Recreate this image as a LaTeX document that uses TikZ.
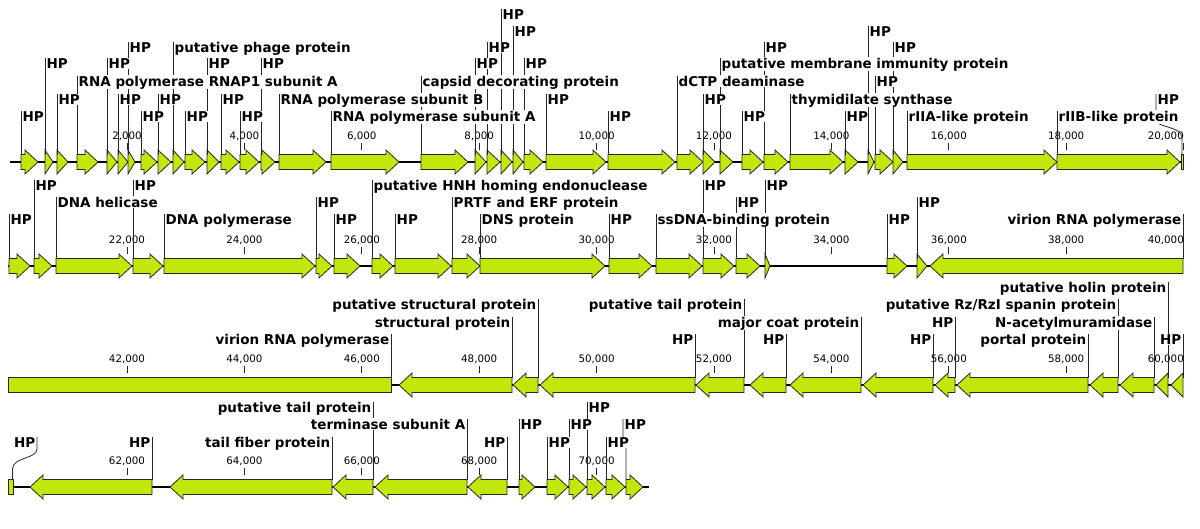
\documentclass[tikz,border=0pt]{standalone}
\usepackage{fontspec}
\setmainfont{DejaVu Sans}
\usepackage{tikz}
\usetikzlibrary{calc}
\definecolor{geneLime}{HTML}{C0E80A}
\pgfdeclarelayer{labels}
\pgfsetlayers{main,labels}

% forward gene: name, start, end, row centre, label level, label
\newcommand{\fgene}[6]{%
  \pgfmathsetmacro{\hl}{min(13,#3-#2)}%
  \draw[gene] (#2,#4-7.5) -- (#3-\hl,#4-7.5) -- (#3-\hl,#4-12) -- (#3,#4) -- (#3-\hl,#4+12) -- (#3-\hl,#4+7.5) -- (#2,#4+7.5) -- cycle;
  \coordinate (#1) at (#2,#4-7.5);
  \begin{pgfonlayer}{labels}
    \node[lab, anchor=base west] (#1l) at (#2+1,#5+5) {#6};
  \end{pgfonlayer}
  \draw[leader] (#1) -- ($(#1 |- #1l.base)+(0,-10)$);
}
% reverse gene: name, tip, start, row centre, label level, label
\newcommand{\rgene}[6]{%
  \pgfmathsetmacro{\hl}{min(13,#3-#2)}%
  \draw[gene] (#3,#4-7.5) -- (#2+\hl,#4-7.5) -- (#2+\hl,#4-12) -- (#2,#4) -- (#2+\hl,#4+12) -- (#2+\hl,#4+7.5) -- (#3,#4+7.5) -- cycle;
  \coordinate (#1) at (#3,#4-7.5);
  \begin{pgfonlayer}{labels}
    \node[lab, anchor=base east] (#1l) at (#3-1,#5+5) {#6};
  \end{pgfonlayer}
  \draw[leader] (#1) -- ($(#1 |- #1l.base)+(0,-10)$);
}

\begin{document}
\begin{tikzpicture}[
  x=1pt, y=-1pt,
  gene/.style={draw=black!85, fill=geneLime, line width=0.8pt, line join=miter},
  backbone/.style={draw=black, line width=1.8pt},
  leader/.style={draw=black!85, line width=0.8pt},
  tick/.style={draw=black!85, line width=0.8pt},
  lab/.style={fill=white, inner sep=0.5pt, font=\fontsize{13.5}{15}\selectfont\bfseries},
  ticklab/.style={inner sep=0pt, font=\fontsize{10.3}{12}\selectfont}
]
\useasboundingbox (0,0) rectangle (1200,528);

% backbones
\draw[backbone] (10,162) -- (1183,162);
\draw[backbone] (8,266) -- (1183,266);
\draw[backbone] (8,385) -- (1183,385);
\draw[backbone] (8,487) -- (649,487);

% ticks
\foreach \row/\cy/\base/\n in {1/162/0/10, 2/266/20/10, 3/385/40/10, 4/487/60/5} {
  \foreach \k in {1,...,\n} {
    \pgfmathtruncatemacro{\kb}{\base+2*\k}
    \draw[tick] (9.6+117.4*\k,\cy-19) -- (9.6+117.4*\k,\cy-12);
    \ifnum\k=10
      \node[ticklab, anchor=east] (t\row-\k) at (1184,\cy-26) {\kb,000};
    \else
      \node[ticklab] (t\row-\k) at (9.6+117.4*\k,\cy-26) {\kb,000};
    \fi
  }
}

% Row 1
\fgene{r1a}{21}{38}{162}{116}{HP}
\fgene{r1b}{45}{53}{162}{63}{HP}
\fgene{r1c}{57}{68}{162}{99}{HP}
\fgene{r1d}{77}{98}{162}{81}{RNA polymerase RNAP1 subunit A}
\fgene{r1e}{107}{117}{162}{63}{HP}
\fgene{r1f}{118}{128}{162}{99}{HP}
\fgene{r1g}{128}{135}{162}{47}{HP}
\fgene{r1h}{141}{157}{162}{116}{HP}
\fgene{r1i}{158}{171}{162}{99}{HP}
\fgene{r1j}{173}{184}{162}{47}{putative phage protein}
\fgene{r1k}{185}{205}{162}{116}{HP}
\fgene{r1l}{207}{219}{162}{63}{HP}
\fgene{r1m}{221}{239}{162}{99}{HP}
\fgene{r1n}{240}{259}{162}{116}{HP}
\fgene{r1o}{261}{275}{162}{63}{HP}
\fgene{r1p}{279}{326}{162}{99}{RNA polymerase subunit B}
\fgene{r1q}{331}{399}{162}{116}{RNA polymerase subunit A}
\fgene{r1r}{421}{468}{162}{81}{capsid decorating protein}
\fgene{r1s}{475}{486}{162}{63}{HP}
\fgene{r1t}{487}{500}{162}{47}{HP}
\fgene{r1u}{501}{512}{162}{14}{HP}
\fgene{r1v}{513}{523}{162}{31}{HP}
\fgene{r1w}{524}{543}{162}{63}{HP}
\fgene{r1x}{546}{606}{162}{99}{HP}
\fgene{r1y}{608}{675}{162}{116}{HP}
\fgene{r1z}{677}{703}{162}{81}{dCTP deaminase}
\fgene{r1aa}{703}{715}{162}{99}{HP}
\fgene{r1ab}{720}{733}{162}{63}{putative membrane immunity protein}
\fgene{r1ac}{742}{763}{162}{116}{HP}
\fgene{r1ad}{764}{788}{162}{47}{HP}
\fgene{r1ae}{790}{843}{162}{99}{thymidilate synthase}
\fgene{r1af}{845}{858}{162}{116}{HP}
\fgene{r1ag}{868}{874}{162}{31}{HP}
\fgene{r1ah}{875}{893}{162}{81}{HP}
\fgene{r1ai}{893}{903}{162}{47}{HP}
\fgene{r1aj}{907}{1057}{162}{116}{rIIA-like protein}
\fgene{r1ak}{1057}{1180}{162}{116}{rIIB-like protein}
\draw[gene] (1181,154.5) rectangle (1183.5,169.5);
\coordinate (r1al) at (1182,154.5);
\begin{pgfonlayer}{labels}
  \node[lab, anchor=base west] (r1all) at (1157,104) {HP};
\end{pgfonlayer}
\draw[leader] (r1al) -- (1182,138) .. controls (1182,126) and (1157,128) .. (1156,120) -- ($(r1all.base west)+(-1,-10)$);

% Row 2
\fgene{r2a}{9}{30}{266}{219}{HP}
\fgene{r2b}{34}{52}{266}{185}{HP}
\fgene{r2c}{56}{132}{266}{202}{DNA helicase}
\fgene{r2d}{133}{163}{266}{185}{HP}
\fgene{r2e}{164}{315}{266}{219}{DNA polymerase}
\fgene{r2f}{316}{332}{266}{202}{HP}
\fgene{r2g}{334}{360}{266}{219}{HP}
\fgene{r2h}{372}{393}{266}{185}{putative HNH homing endonuclease}
\fgene{r2i}{395}{451}{266}{219}{HP}
\fgene{r2j}{452}{480}{266}{202}{PRTF and ERF protein}
\fgene{r2k}{480}{605}{266}{219}{DNS protein}
\fgene{r2l}{609}{652}{266}{219}{HP}
\fgene{r2m}{656}{702}{266}{219}{ssDNA-binding protein}
\fgene{r2n}{703}{734}{266}{185}{HP}
\fgene{r2o}{736}{760}{266}{202}{HP}
\fgene{r2p}{765}{770}{266}{185}{HP}
\fgene{r2q}{887}{907}{266}{219}{HP}
\fgene{r2r}{917}{927}{266}{202}{HP}
\rgene{r2s}{930}{1183}{266}{219}{virion RNA polymerase}

% Row 3
\draw[gene] (8,377.5) rectangle (391,392.5);
\coordinate (r3a) at (391,377.5);
\begin{pgfonlayer}{labels}
  \node[lab, anchor=base east] (r3al) at (390,344) {virion RNA polymerase};
\end{pgfonlayer}
\draw[leader] (r3a) -- ($(r3a |- r3al.base)+(0,-10)$);
\rgene{r3b}{399}{512}{385}{322}{structural protein}
\rgene{r3c}{513}{538}{385}{304}{putative structural protein}
\rgene{r3d}{540}{695}{385}{339}{HP}
\rgene{r3e}{696}{744}{385}{304}{putative tail protein}
\rgene{r3f}{750}{786}{385}{339}{HP}
\rgene{r3g}{790}{861}{385}{322}{major coat protein}
\rgene{r3h}{863}{933}{385}{339}{HP}
\rgene{r3i}{935}{955}{385}{322}{HP}
\rgene{r3j}{957}{1088}{385}{339}{portal protein}
\rgene{r3k}{1090}{1118}{385}{304}{putative Rz/RzI spanin protein}
\rgene{r3l}{1120}{1154}{385}{322}{N-acetylmuramidase}
\rgene{r3m}{1156}{1168}{385}{287}{putative holin protein}
\rgene{r3n}{1171}{1183}{385}{339}{HP}

% Row 4
\draw[gene] (8,479.5) rectangle (13,494.5);
\coordinate (r4a) at (12.5,479.5);
\begin{pgfonlayer}{labels}
  \node[lab, anchor=base east] (r4al) at (36,447) {HP};
\end{pgfonlayer}
\draw[leader] (r4a) -- (12.5,469) .. controls (12.5,457) and (37,459) .. (37,449) -- ($(r4al.base east)+(1,-10)$);
\rgene{r4b}{30}{152}{487}{442}{HP}
\rgene{r4c}{170}{332}{487}{442}{tail fiber protein}
\rgene{r4d}{333}{373}{487}{407}{putative tail protein}
\rgene{r4e}{375}{467}{487}{424}{terminase subunit A}
\rgene{r4f}{468}{507}{487}{442}{HP}
\fgene{r4g}{519}{535}{487}{424}{HP}
\fgene{r4h}{547}{568}{487}{442}{HP}
\fgene{r4i}{569}{586}{487}{424}{HP}
\fgene{r4j}{587}{605}{487}{407}{HP}
\fgene{r4k}{606}{625}{487}{442}{HP}
\pgfmathsetmacro{\hl}{13}
\draw[gene] (626,479.5) -- (630,479.5) -- (630,475) -- (643,487) -- (630,499) -- (630,494.5) -- (626,494.5) -- cycle;
\coordinate (r4l) at (626,479.5);
\begin{pgfonlayer}{labels}
  \node[lab, anchor=base west] (r4ll) at (624,429) {HP};
\end{pgfonlayer}
\draw[leader] (r4l) -- (626,447) .. controls (626,441) and (623,442) .. (623,436) -- ($(r4ll.base west)+(-1,-10)$);
\end{tikzpicture}
\end{document}
